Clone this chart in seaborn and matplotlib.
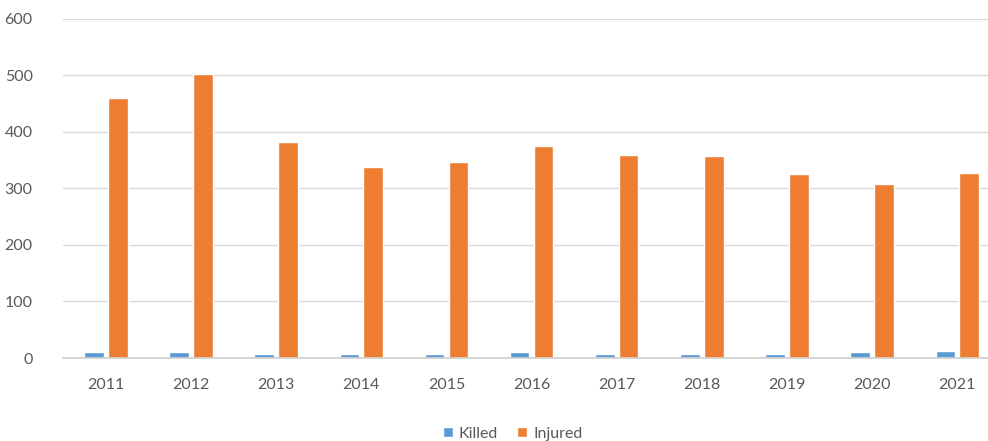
import matplotlib
matplotlib.use("Agg")
import matplotlib.pyplot as plt
import seaborn as sns
import pandas as pd

years = ["2011", "2012", "2013", "2014", "2015", "2016", "2017", "2018", "2019", "2020", "2021"]
killed = [10, 11, 8, 8, 8, 10, 8, 8, 8, 10, 12]
injured = [460, 502, 382, 338, 347, 375, 359, 357, 325, 308, 327]
series = ["Killed", "Injured"]
colors = ["#5B9BD5", "#ED7D31"]

df = pd.DataFrame({
    "Year": years * 2,
    "Count": killed + injured,
    "Type": [series[0]] * len(years) + [series[1]] * len(years),
})

sns.set_theme(style="white")
plt.rcParams["font.family"] = ["Lato", "DejaVu Sans"]

fig = plt.figure(figsize=(9.88, 4.41), dpi=100)
ax = fig.add_axes([0.064, 0.188, 0.948, 0.77])

sns.barplot(data=df, x="Year", y="Count", hue="Type", palette=colors,
            width=0.56, gap=0.18, ax=ax, legend=True, saturation=1)

ax.set_ylim(0, 600)
ax.set_yticks(range(0, 601, 100))
ax.set_xlim(-0.5, 10.5)
ax.yaxis.grid(True, color="#D9D9D9", linewidth=1)
ax.set_axisbelow(True)
for s in ["top", "right", "left"]:
    ax.spines[s].set_visible(False)
ax.spines["bottom"].set_color("#D0D0D0")
ax.set_xlabel("")
ax.set_ylabel("")
ax.tick_params(axis="both", length=0, labelsize=11.5, labelcolor="#595959")
ax.tick_params(axis="x", pad=14)
ax.tick_params(axis="y", pad=22)

leg = ax.legend(loc="lower center", bbox_to_anchor=(0.48, -0.272), ncol=2,
                frameon=False, fontsize=11.5, handlelength=0.6, handleheight=0.6,
                handletextpad=0.4, columnspacing=1.2, borderaxespad=0.2)
for t in leg.get_texts():
    t.set_color("#595959")

fig.savefig("out.png", dpi=100)
